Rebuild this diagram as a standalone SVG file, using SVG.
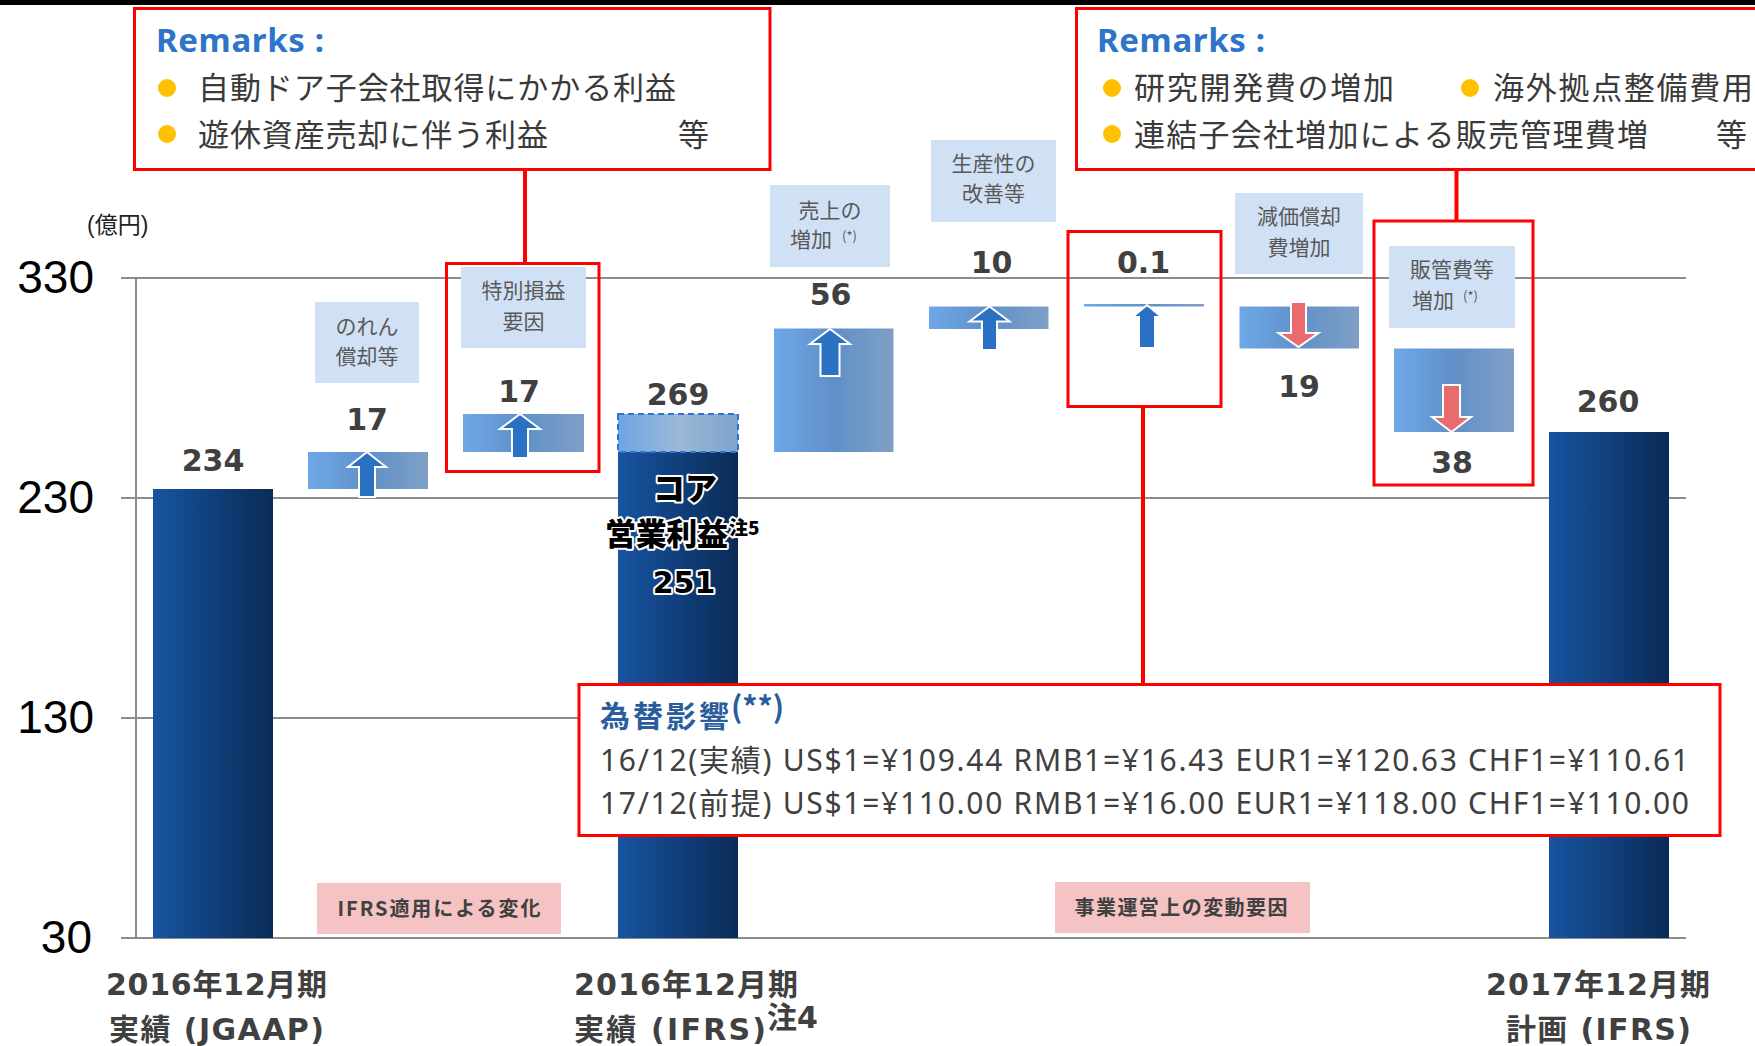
<svg xmlns="http://www.w3.org/2000/svg" width="1755" height="1046" viewBox="0 0 1755 1046">
<defs>
<linearGradient id="navy" x1="0" y1="0" x2="1" y2="0">
<stop offset="0" stop-color="#1754A1"/><stop offset="1" stop-color="#0A2B56"/>
</linearGradient>
<linearGradient id="light" x1="0" y1="0" x2="1" y2="0">
<stop offset="0" stop-color="#6EA8E8"/><stop offset="0.5" stop-color="#6090C8"/><stop offset="1" stop-color="#7FA0C6"/>
</linearGradient>
<linearGradient id="pale" x1="0" y1="0" x2="1" y2="0">
<stop offset="0" stop-color="#6DA5E4"/><stop offset="0.5" stop-color="#9BB8D7"/><stop offset="1" stop-color="#7FA2CB"/>
</linearGradient>
</defs>
<style>
.grid{stroke:#8C8C8C;stroke-width:2;fill:none}
.axis{font-family:"Liberation Sans",Arial,sans-serif;font-size:46px;fill:#000;text-anchor:end}
.unit{font-family:"Liberation Sans","Noto Sans CJK JP",sans-serif;font-size:23px;fill:#222}
.val{font-family:"DejaVu Sans","Noto Sans CJK JP",sans-serif;font-weight:bold;font-size:30px;fill:#404040;text-anchor:middle}
.bar{fill:url(#navy)}
.inc{fill:url(#light)}
.lbl{fill:#D1E1F5}
.lt{font-family:"Noto Sans CJK JP",sans-serif;font-size:21px;fill:#595959;text-anchor:middle}
.ls{font-family:"Noto Sans CJK JP",sans-serif;font-size:13px;fill:#595959}
.red{fill:none;stroke:#FF0000;stroke-width:3}
.redw{fill:#fff;stroke:#FF0000;stroke-width:3}
.conn{stroke:#FF0000;stroke-width:4;fill:none}
.up{fill:#2A70C3;stroke:#fff;stroke-width:2}
.down{fill:#E96B6C;stroke:#fff;stroke-width:2}
.rem{font-family:"Noto Sans","Liberation Sans",sans-serif;font-weight:bold;font-size:33px;fill:#2E74C8}
.rt{font-family:"Noto Sans CJK JP",sans-serif;font-size:31px;fill:#3A3A3A}
.dot{fill:#FFC000}
.pink{fill:#F5C3C3}
.pt{font-family:"Noto Sans CJK JP",sans-serif;font-weight:bold;font-size:20px;fill:#404040}
.xl{font-family:"DejaVu Sans","Noto Sans CJK JP",sans-serif;font-weight:bold;font-size:30px;fill:#404040}
.core{font-family:"Noto Sans CJK JP",sans-serif;font-weight:900;fill:#000;stroke:#fff;stroke-width:4;paint-order:stroke;stroke-linejoin:round}
.corev{font-family:"DejaVu Sans",sans-serif;font-weight:bold;font-size:30px;fill:#000;stroke:#fff;stroke-width:4;paint-order:stroke;stroke-linejoin:round;text-anchor:middle}
.fxh{font-family:"Noto Sans CJK JP",sans-serif;font-weight:bold;font-size:30px;fill:#2B5C9C}
.fx{font-family:"Noto Sans","Noto Sans CJK JP",sans-serif;font-size:30px;fill:#404040}
</style>
<rect x="0" y="0" width="1755" height="5" fill="#000"/>

<g id="axes">
<line class="grid" x1="121" y1="278" x2="1686" y2="278"/>
<line class="grid" x1="121" y1="498" x2="1686" y2="498"/>
<line class="grid" x1="121" y1="718" x2="1686" y2="718"/>
<line class="grid" x1="121" y1="938" x2="1686" y2="938"/>
<line class="grid" x1="136" y1="278" x2="136" y2="938"/>
<text class="axis" x="94" y="293">330</text>
<text class="axis" x="94" y="513">230</text>
<text class="axis" x="94" y="733">130</text>
<text class="axis" x="92" y="953">30</text>
<text class="unit" x="87" y="233">(億円)</text>
</g>

<g id="bar-2016-jgaap">
<rect class="bar" x="153" y="489" width="120" height="449"/>
<text class="val" x="213" y="471">234</text>
<text class="xl" x="106" y="995" textLength="221">2016年12月期</text>
<text class="xl" x="109" y="1040" textLength="215">実績 (JGAAP)</text>
</g>

<g id="step-noren">
<rect class="lbl" x="315" y="302" width="104" height="81"/>
<text class="lt" x="367" y="334">のれん</text>
<text class="lt" x="367" y="364">償却等</text>
<rect class="inc" x="308" y="452" width="120" height="37"/>
<path class="up" d="M367,452 L386,467 L375,467 L375,497 L359,497 L359,467 L348,467 Z"/>
<text class="val" x="367" y="430">17</text>
</g>

<g id="step-tokubetsu">
<rect class="lbl" x="461" y="267" width="125" height="81"/>
<text class="lt" x="523.5" y="298">特別損益</text>
<text class="lt" x="523.5" y="329">要因</text>
<rect class="inc" x="463" y="414" width="121" height="38"/>
<path class="up" d="M520,414 L540,429 L528,429 L528,458 L512,458 L512,429 L500,429 Z"/>
<text class="val" x="519" y="402">17</text>
<rect class="red" x="446.5" y="263.5" width="152.5" height="208"/>
</g>

<g id="bar-2016-ifrs">
<rect class="bar" x="618" y="452" width="120" height="486"/>
<rect x="618" y="414" width="120" height="38" fill="url(#pale)" stroke="#2E74D0" stroke-width="2" stroke-dasharray="6 4"/>
<text class="val" x="678" y="405">269</text>
<text class="core" x="685" y="500" font-size="32" text-anchor="middle">コア</text>
<text class="core" x="605" y="545" font-size="31" textLength="123">営業利益</text>
<text class="core" x="729" y="535" font-size="19">注5</text>
<text class="corev" x="684" y="593">251</text>
<text class="xl" x="574" y="995" textLength="224">2016年12月期</text>
<text class="xl" x="574" y="1040" textLength="192">実績 (IFRS)</text>
<text class="xl" x="767" y="1028" font-size="17">注4</text>
</g>

<g id="step-sales">
<rect class="lbl" x="770" y="185" width="120" height="82"/>
<text class="lt" x="830" y="218">売上の</text>
<text class="lt" x="811" y="247">増加</text>
<text class="ls" x="842" y="241">(*)</text>
<rect class="inc" x="774" y="328.5" width="119.5" height="123.5"/>
<path class="up" d="M830,329 L850,344 L839.5,344 L839.5,376 L820.5,376 L820.5,344 L810,344 Z"/>
<text class="val" x="830.5" y="305">56</text>
</g>

<g id="step-productivity">
<rect class="lbl" x="931" y="140" width="125" height="82"/>
<text class="lt" x="993.5" y="171">生産性の</text>
<text class="lt" x="993.5" y="201">改善等</text>
<rect class="inc" x="929" y="306.5" width="119.5" height="22.5"/>
<path class="up" d="M989.5,306.5 L1009.5,321.5 L997,321.5 L997,350 L982,350 L982,321.5 L969.5,321.5 Z"/>
<text class="val" x="991.5" y="273">10</text>
</g>

<g id="step-fx">
<rect class="inc" x="1084" y="304" width="120" height="2.5"/>
<path class="up" d="M1147,305 L1161.5,317 L1155,317 L1155,348 L1139,348 L1139,317 L1132.5,317 Z"/>
<text class="val" x="1143.5" y="273">0.1</text>
<rect class="red" x="1068" y="231.5" width="153" height="175"/>
</g>

<g id="step-depreciation">
<rect class="lbl" x="1235" y="193" width="128" height="81"/>
<text class="lt" x="1299" y="224">減価償却</text>
<text class="lt" x="1299" y="255">費増加</text>
<rect class="inc" x="1239.5" y="306.5" width="119.5" height="42"/>
<path class="down" d="M1291,302 L1306,302 L1306,333 L1318.5,333 L1298.5,347 L1278.5,333 L1291,333 Z"/>
<text class="val" x="1299" y="397">19</text>
</g>

<g id="step-sga">
<rect class="lbl" x="1389" y="246" width="126" height="82"/>
<text class="lt" x="1452" y="277">販管費等</text>
<text class="lt" x="1433" y="308">増加</text>
<text class="ls" x="1463" y="301">(*)</text>
<rect class="inc" x="1394" y="348.5" width="120" height="83.5"/>
<path class="down" d="M1443,385 L1460,385 L1460,417 L1471,417 L1451.5,432 L1432,417 L1443,417 Z"/>
<text class="val" x="1452" y="473">38</text>
<rect class="red" x="1374" y="221" width="159" height="264"/>
</g>

<g id="bar-2017-plan">
<rect class="bar" x="1549" y="432" width="120" height="506"/>
<text class="val" x="1608" y="412">260</text>
<text class="xl" x="1486" y="995" textLength="224">2017年12月期</text>
<text class="xl" x="1506" y="1040" textLength="185">計画 (IFRS)</text>
</g>

<g id="group-ifrs">
<rect class="pink" x="317" y="883" width="244" height="51"/>
<text class="pt" x="337.5" y="916" textLength="203">IFRS適用による変化</text>
</g>

<g id="group-business">
<rect class="pink" x="1055" y="882" width="255" height="51"/>
<text class="pt" x="1074.5" y="915" textLength="213">事業運営上の変動要因</text>
</g>

<g id="connectors">
<line class="conn" x1="525" y1="169.5" x2="525" y2="263.5"/>
<line class="conn" x1="1143" y1="406.5" x2="1143" y2="684.5"/>
<line class="conn" x1="1456.5" y1="169.5" x2="1456.5" y2="221"/>
</g>

<g id="remarks-left">
<rect class="redw" x="134.5" y="8.5" width="635.5" height="161"/>
<text class="rem" x="156" y="52" textLength="168">Remarks :</text>
<circle class="dot" cx="167" cy="88" r="9"/>
<text class="rt" x="198" y="99" textLength="478">自動ドア子会社取得にかかる利益</text>
<circle class="dot" cx="167" cy="134" r="9"/>
<text class="rt" x="198" y="146" textLength="350">遊休資産売却に伴う利益</text>
<text class="rt" x="678" y="146">等</text>
</g>

<g id="remarks-right">
<rect class="redw" x="1076.5" y="8.5" width="700" height="161"/>
<text class="rem" x="1097" y="52" textLength="168">Remarks :</text>
<circle class="dot" cx="1112" cy="88" r="9"/>
<text class="rt" x="1134" y="99" textLength="260">研究開発費の増加</text>
<circle class="dot" cx="1470" cy="88" r="9"/>
<text class="rt" x="1493" y="99" textLength="260">海外拠点整備費用</text>
<circle class="dot" cx="1112" cy="134" r="9"/>
<text class="rt" x="1134" y="146" textLength="514">連結子会社増加による販売管理費増</text>
<text class="rt" x="1716" y="146">等</text>
</g>

<g id="fx-box">
<rect class="redw" x="579" y="684.5" width="1141" height="151"/>
<text class="fxh" x="600" y="727" textLength="129">為替影響</text>
<text class="fxh" x="731" y="718" font-size="17" font-weight="normal">(**)</text>
<text class="fx" x="600" y="771" textLength="1089">16/12(実績)  US$1=¥109.44 RMB1=¥16.43 EUR1=¥120.63 CHF1=¥110.61</text>
<text class="fx" x="600" y="814" textLength="1089">17/12(前提)  US$1=¥110.00 RMB1=¥16.00 EUR1=¥118.00 CHF1=¥110.00</text>
</g>
</svg>
